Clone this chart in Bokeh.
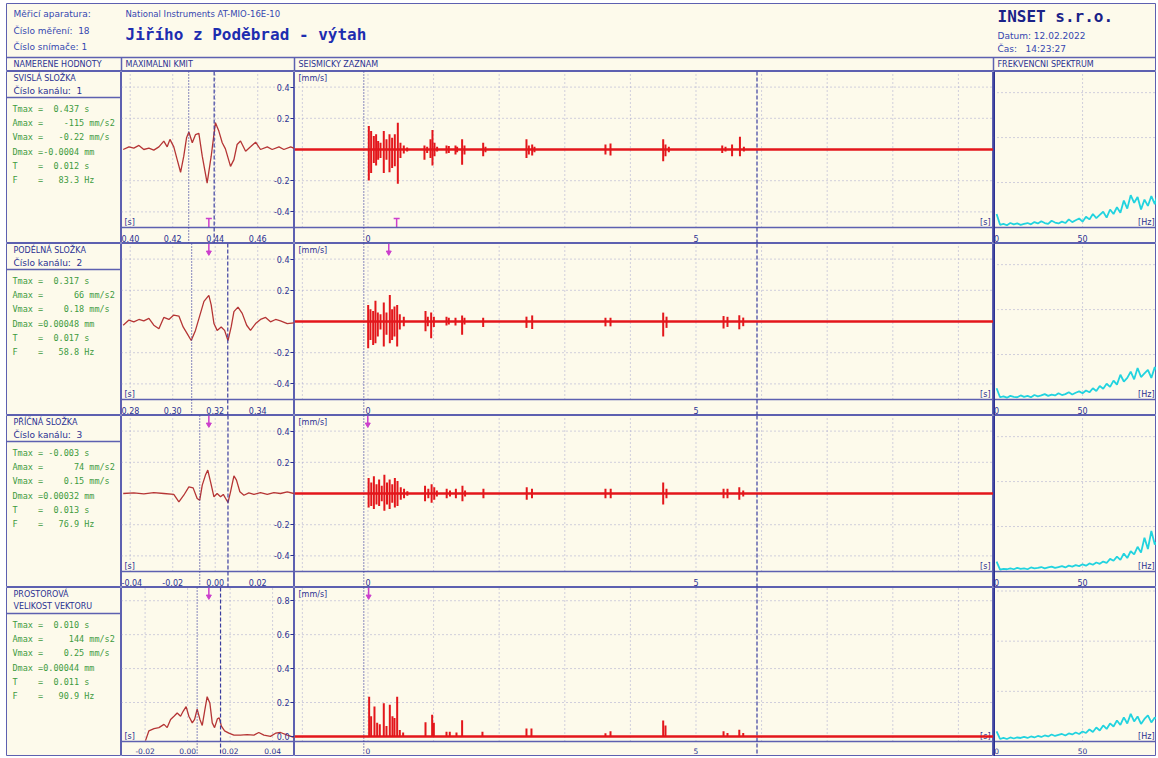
from bokeh.plotting import figure
from bokeh.layouts import column, row
from bokeh.models import Range1d, LinearAxis, FixedTicker, Span, NumeralTickFormatter
from bokeh.core.properties import value
from bokeh.embed import file_html
from bokeh.resources import INLINE

# ---------------- texts ----------------
HEADER_LEFT = ["Měřicí aparatura:", "Číslo měření:  18", "Číslo snímače: 1"]
DEVICE = "National Instruments AT-MIO-16E-10"
TITLE = "Jiřího z Poděbrad - výtah"
COMPANY = "INSET s.r.o."
DATE_LINES = ["Datum: 12.02.2022", "Čas:   14:23:27"]
COL_HEADERS = ["NAMERENE HODNOTY", "MAXIMALNI KMIT", "SEISMICKY ZAZNAM", "FREKVENCNI SPEKTRUM"]
ROW_TITLES = [["SVISLÁ SLOŽKA", "Číslo kanálu:  1"],
              ["PODÉLNÁ SLOŽKA", "Číslo kanálu:  2"],
              ["PŘÍČNÁ SLOŽKA", "Číslo kanálu:  3"],
              ["PROSTOROVÁ", "VELIKOST VEKTORU"]]

# ---------------- measured values ----------------
TMAX = [0.437, 0.317, -0.003, 0.010]
AMAX = [-115, 66, 74, 144]
VMAX = [-0.22, 0.18, 0.15, 0.25]
DMAX = ["-0.0004", "0.00048", "0.00032", "0.00044"]
PERIOD = [0.012, 0.017, 0.013, 0.011]
FREQ = [83.3, 58.8, 76.9, 90.9]
ARROW_UP = [True, False, False, False]

# ---------------- maximal oscillation ----------------
MK_XTICKS = [[0.40, 0.42, 0.44, 0.46], [0.28, 0.30, 0.32, 0.34],
             [-0.04, -0.02, 0.00, 0.02], [-0.02, 0.00, 0.02, 0.04]]
MK_YTICKS = [[-0.4, -0.2, 0.2, 0.4]] * 3 + [[0.0, 0.2, 0.4, 0.6, 0.8]]
MK_YGRID = [[-0.4, -0.2, 0.2, 0.4]] * 3 + [[0.2, 0.4, 0.6, 0.8]]
MK_MARK_A = [0.4275, 0.3089, -0.0073, 0.0045]
MK_MARK_B = [0.4395, 0.3259, 0.0060, 0.0155]

MK1_T = [0.3967, 0.3994, 0.4017, 0.4041, 0.4064, 0.4088, 0.4111, 0.4135, 0.4158, 0.4174,
         0.4187, 0.4205, 0.4221, 0.4237, 0.4252, 0.4265, 0.4276, 0.4292, 0.4307, 0.4323,
         0.4339, 0.4362, 0.4381, 0.4401, 0.4417, 0.4433, 0.4448, 0.4472, 0.4488, 0.4503,
         0.4519, 0.4543, 0.4566, 0.4590, 0.4613, 0.4645, 0.4668, 0.4700, 0.4723, 0.4755, 0.4778]
MK1_V = [0.000, 0.017, 0.009, 0.026, 0.000, 0.009, -0.004, 0.017, 0.054, 0.017,
         0.065, 0.017, -0.065, -0.146, -0.043, 0.075, 0.112, 0.043, 0.095, 0.103,
         -0.043, -0.215, -0.043, 0.172, 0.118, 0.043, 0.004, -0.108, -0.065, 0.032,
         0.054, -0.011, 0.017, 0.047, 0.000, 0.017, 0.000, 0.017, 0.000, 0.017, 0.004]
MK2_T = [0.2767, 0.2794, 0.2817, 0.2841, 0.2864, 0.2888, 0.2911, 0.2935, 0.2958, 0.2982,
         0.3005, 0.3029, 0.3049, 0.3068, 0.3087, 0.3107, 0.3128, 0.3147, 0.3170, 0.3181,
         0.3194, 0.3209, 0.3228, 0.3244, 0.3260, 0.3275, 0.3288, 0.3307, 0.3327, 0.3348,
         0.3366, 0.3390, 0.3413, 0.3437, 0.3460, 0.3484, 0.3507, 0.3539, 0.3570]
MK2_V = [-0.024, 0.009, -0.002, 0.013, 0.004, 0.020, -0.024, -0.046, 0.026, 0.013,
         0.041, 0.035, -0.035, -0.078, -0.122, -0.057, 0.041, 0.129, 0.168, 0.107,
         -0.013, -0.057, -0.035, -0.057, -0.122, -0.035, 0.063, 0.092, 0.052, -0.024,
         -0.057, -0.013, 0.013, 0.026, -0.002, 0.013, 0.004, -0.013, -0.009]
MK3_T = [-0.0433, -0.0383, -0.0336, -0.0289, -0.0242, -0.0195, -0.0171, -0.0148, -0.0124, -0.0104,
         -0.0085, -0.0073, -0.0061, -0.0046, -0.0035, -0.0022, -0.0006, 0.0009, 0.0025, 0.0038,
         0.0049, 0.0060, 0.0072, 0.0088, 0.0100, 0.0116, 0.0135, 0.0158, 0.0182, 0.0213,
         0.0245, 0.0276, 0.0307, 0.0339, 0.0370]
MK3_V = [0.000, 0.004, -0.002, 0.006, 0.000, -0.006, -0.054, -0.011, 0.043, 0.036,
         -0.032, -0.043, 0.054, 0.118, 0.150, 0.075, -0.021, 0.000, -0.021, -0.006,
         -0.032, -0.058, 0.011, 0.113, 0.086, 0.011, -0.011, 0.004, -0.006, 0.006,
         -0.006, 0.006, 0.000, 0.011, 0.000]
MK4_T = [-0.0198, -0.0182, -0.0158, -0.0135, -0.0111, -0.0096, -0.0080, -0.0064, -0.0049, -0.0033,
         -0.0021, -0.0007, 0.0006, 0.0022, 0.0033, 0.0045, 0.0058, 0.0069, 0.0080, 0.0092,
         0.0105, 0.0116, 0.0127, 0.0140, 0.0149, 0.0159, 0.0174, 0.0194, 0.0218, 0.0249,
         0.0280, 0.0312, 0.0335, 0.0359, 0.0390, 0.0414, 0.0437, 0.0469, 0.0500]
MK4_V = [-0.025, 0.033, 0.046, 0.052, 0.071, 0.052, 0.100, 0.119, 0.138, 0.119,
         0.148, 0.176, 0.119, 0.080, 0.100, 0.161, 0.100, 0.065, 0.148, 0.234,
         0.195, 0.080, 0.052, 0.103, 0.109, 0.061, 0.033, 0.019, 0.008, 0.008,
         0.011, 0.008, 0.023, 0.008, 0.000, 0.019, 0.023, 0.008, -0.006]
MK_T = [MK1_T, MK2_T, MK3_T, MK4_T]
MK_V = [MK1_V, MK2_V, MK3_V, MK4_V]

# ---------------- seismic record ----------------
SEIS_XTICKS = [0, 5]
SEIS_XGRID = [-1, 0, 1, 2, 3, 4, 5, 6, 7, 8, 9]
SEIS_MARK_A = -0.064
SEIS_MARK_B = 5.93
S1_T = [0.013, 0.048, 0.089, 0.124, 0.155, 0.191, 0.241, 0.282, 0.328, 0.368, 0.409, 0.455, 0.495, 0.546, 0.597,
        0.861, 0.902, 0.953, 0.983, 1.014, 1.054, 1.197, 1.232, 1.334, 1.359, 1.435, 1.471, 1.756, 1.791,
        2.416, 2.452, 2.503, 2.538, 3.620, 3.697, 4.500, 4.535, 4.586, 5.40, 5.45, 5.55, 5.67, 5.73]
S1_HI = [0.150, 0.118, 0.086, 0.097, 0.054, 0.043, 0.118, 0.065, 0.097, 0.075, 0.097, 0.172, 0.043, 0.026, 0.013,
         0.026, 0.017, 0.065, 0.125, 0.043, 0.017, 0.026, 0.022, 0.026, 0.017, 0.065, 0.026, 0.043, 0.017,
         0.065, 0.026, 0.032, 0.017, 0.032, 0.039, 0.065, 0.032, 0.017, 0.026, 0.017, 0.032, 0.082, 0.017]
S1_LO = [-0.198, -0.150, -0.086, -0.103, -0.065, -0.054, -0.150, -0.065, -0.146, -0.118, -0.108, -0.219, -0.054, -0.026, -0.013,
         -0.065, -0.022, -0.054, -0.103, -0.043, -0.013, -0.026, -0.022, -0.032, -0.017, -0.097, -0.032, -0.043, -0.017,
         -0.054, -0.032, -0.039, -0.017, -0.032, -0.039, -0.075, -0.043, -0.017, -0.022, -0.013, -0.043, -0.043, -0.013]
S2_T = [0.003, 0.038, 0.079, 0.114, 0.150, 0.191, 0.241, 0.282, 0.333, 0.368, 0.404, 0.445, 0.485, 0.546,
        0.877, 0.912, 0.963, 1.004, 1.197, 1.232, 1.334, 1.435, 1.471, 1.756, 2.416, 2.503, 3.620, 3.697,
        4.500, 4.551, 5.42, 5.48, 5.66, 5.72]
S2_HI = [0.105, 0.078, 0.068, 0.133, 0.057, 0.046, 0.122, 0.057, 0.170, 0.078, 0.096, 0.105, 0.046, 0.031,
         0.068, 0.031, 0.057, 0.031, 0.031, 0.024, 0.024, 0.039, 0.024, 0.024, 0.031, 0.039, 0.024, 0.024,
         0.057, 0.031, 0.035, 0.030, 0.040, 0.025]
S2_LO = [-0.172, -0.118, -0.150, -0.140, -0.096, -0.052, -0.161, -0.085, -0.140, -0.118, -0.096, -0.161, -0.052, -0.031,
         -0.063, -0.031, -0.107, -0.035, -0.026, -0.020, -0.026, -0.085, -0.020, -0.035, -0.041, -0.048, -0.031, -0.031,
         -0.096, -0.041, -0.045, -0.035, -0.050, -0.030]
S3_T = [0.01, 0.05, 0.09, 0.13, 0.17, 0.21, 0.25, 0.29, 0.33, 0.37, 0.41, 0.45, 0.50, 0.55, 0.60,
        0.87, 0.92, 0.97, 1.01, 1.05, 1.20, 1.25, 1.34, 1.44, 1.48, 1.76, 2.42, 2.50, 3.62, 3.70,
        4.50, 4.55, 5.42, 5.48, 5.66, 5.72]
S3_HI = [0.10, 0.07, 0.11, 0.06, 0.09, 0.05, 0.12, 0.07, 0.09, 0.06, 0.10, 0.08, 0.04, 0.03, 0.015,
         0.05, 0.03, 0.06, 0.04, 0.02, 0.03, 0.02, 0.03, 0.05, 0.02, 0.03, 0.04, 0.03, 0.03, 0.03,
         0.07, 0.03, 0.03, 0.03, 0.04, 0.02]
S3_LO = [-0.09, -0.08, -0.10, -0.07, -0.08, -0.05, -0.11, -0.07, -0.10, -0.06, -0.09, -0.08, -0.04, -0.03, -0.015,
         -0.05, -0.03, -0.06, -0.04, -0.02, -0.03, -0.02, -0.03, -0.05, -0.02, -0.03, -0.04, -0.03, -0.03, -0.03,
         -0.07, -0.03, -0.03, -0.03, -0.04, -0.02]
S4_T = [0.018, 0.048, 0.099, 0.140, 0.180, 0.241, 0.282, 0.333, 0.373, 0.404, 0.445, 0.485, 0.536,
        0.877, 0.978, 1.004, 1.197, 1.247, 1.349, 1.435, 1.745, 2.416, 2.492, 3.620, 3.697,
        4.500, 4.535, 5.42, 5.48, 5.66, 5.72]
S4_HI = [0.234, 0.119, 0.176, 0.080, 0.071, 0.195, 0.061, 0.186, 0.119, 0.109, 0.234, 0.038, 0.023,
         0.084, 0.128, 0.080, 0.027, 0.027, 0.023, 0.096, 0.027, 0.046, 0.046, 0.019, 0.031,
         0.094, 0.065, 0.030, 0.020, 0.040, 0.020]
S4_LO = [0.0] * len(S4_T)
S_T = [S1_T, S2_T, S3_T, S4_T]
S_HI = [S1_HI, S2_HI, S3_HI, S4_HI]
S_LO = [S1_LO, S2_LO, S3_LO, S4_LO]

# ---------------- frequency spectrum ----------------
SPEC_XTICKS = [0, 50]
SPEC_XGRID = [50]
SPEC_YGRID = [1, 2, 3]
SPEC_F = [0, 2, 4, 6, 8, 10, 12, 14, 16, 18, 20, 22, 24, 26, 28, 30, 32, 34, 36, 38, 40, 42, 44, 46,
          48, 50, 52, 54, 56, 58, 60, 62, 64, 66, 68, 70, 72, 74, 76, 78, 80, 82, 84, 86, 88, 90, 92, 94]
SPEC1 = [0.30, 0.06, 0.08, 0.05, 0.10, 0.07, 0.09, 0.06, 0.08, 0.10, 0.07, 0.12, 0.09, 0.14, 0.10, 0.08,
         0.15, 0.11, 0.09, 0.13, 0.10, 0.18, 0.12, 0.16, 0.20, 0.13, 0.24, 0.18, 0.30, 0.21, 0.28, 0.35,
         0.22, 0.40, 0.30, 0.45, 0.33, 0.60, 0.42, 0.72, 0.55, 0.68, 0.40, 0.62, 0.48, 0.70, 0.52, 0.78]
SPEC2 = [0.25, 0.05, 0.07, 0.04, 0.08, 0.06, 0.05, 0.09, 0.06, 0.08, 0.05, 0.10, 0.07, 0.09, 0.12, 0.08,
         0.11, 0.09, 0.14, 0.10, 0.12, 0.16, 0.11, 0.15, 0.18, 0.14, 0.20, 0.16, 0.25, 0.19, 0.30, 0.24,
         0.35, 0.28, 0.42, 0.33, 0.55, 0.40, 0.48, 0.62, 0.45, 0.70, 0.50, 0.58, 0.66, 0.48, 0.72, 0.60]
SPEC3 = [0.22, 0.04, 0.06, 0.05, 0.07, 0.05, 0.08, 0.06, 0.07, 0.05, 0.09, 0.07, 0.08, 0.10, 0.07, 0.09,
         0.11, 0.08, 0.10, 0.12, 0.09, 0.13, 0.11, 0.14, 0.12, 0.16, 0.13, 0.18, 0.15, 0.20, 0.17, 0.22,
         0.19, 0.28, 0.24, 0.33, 0.26, 0.40, 0.30, 0.45, 0.38, 0.55, 0.42, 0.75, 0.50, 0.90, 0.60, 0.70]
SPEC4 = [0.20, 0.05, 0.07, 0.05, 0.08, 0.06, 0.08, 0.07, 0.09, 0.07, 0.10, 0.08, 0.11, 0.09, 0.12, 0.10,
         0.14, 0.11, 0.13, 0.15, 0.12, 0.16, 0.14, 0.18, 0.15, 0.20, 0.17, 0.24, 0.19, 0.28, 0.22, 0.32,
         0.25, 0.36, 0.30, 0.42, 0.33, 0.48, 0.36, 0.55, 0.40, 0.50, 0.35, 0.45, 0.52, 0.38, 0.48, 0.42]
SPEC_V = [SPEC1, SPEC2, SPEC3, SPEC4]

# ---------------- layout & style ----------------
COL_W = [115, 173, 699, 163]
HEAD_H, COLHEAD_H = 54, 14
ROW_H = [172, 172, 172, 169]
STRIP_H = [16, 16, 16, 15]
MK_XR = [(0.3959, 0.4773), (0.2759, 0.3573), (-0.0441, 0.0373), (-0.0311, 0.0503)]
MK_YR = [(-0.5, 0.5)] * 3 + [(-0.03, 0.878)]
SEIS_XR = (-1.12, 9.535)
SPEC_XR = (-1.8, 93.0)
SPEC_YR = [(0, 3.47)] * 3 + [(0, 3.07)]

BG = "#fdfaeb"
BORDER = "#5d60b0"
NAVY = "#2b3192"
HBLUE = "#3547b0"
GREEN = "#3e9b3e"
SIG = "#e3161b"
TRACE = "#b53535"
CYAN = "#22d3df"
MAG = "#cc3fcc"
GRID = "#a3a3cc"
MARK = "#3b3ea0"
SANS = "DejaVu Sans"
MONO = "DejaVu Sans Mono"
NB = "\u00a0"


def keep(s):
    return s.replace(" ", NB)


def make_fig(w, h, xr, yr):
    p = figure(width=w, height=h, x_range=xr, y_range=yr, output_backend="svg",
               toolbar_location=None, x_axis_type=None, y_axis_type=None,
               min_border=0, min_border_left=0, min_border_right=0,
               min_border_top=0, min_border_bottom=0)
    p.background_fill_color = BG
    p.border_fill_color = BG
    p.outline_line_color = BORDER
    p.outline_line_width = 1
    return p


def txt(p, x, y, s, size="8px", color=NAVY, font=SANS, align="left", baseline="middle",
        style="normal", xo=0, yo=0):
    p.text(x=x, y=y, text=[keep(t) for t in s], text_font=value(font), text_font_size=size,
           text_color=color, text_align=align, text_baseline=baseline,
           text_font_style=style, x_offset=xo, y_offset=yo)


def x_axis(p, loc, ticks, fmt, last_row=False):
    ax = LinearAxis(fixed_location=loc, ticker=FixedTicker(ticks=ticks),
                    formatter=NumeralTickFormatter(format=fmt),
                    axis_line_color=BORDER, axis_line_width=1.5,
                    major_tick_line_color=None, minor_tick_line_color=None,
                    major_label_text_font=SANS,
                    major_label_text_font_size="7.5px" if last_row else "8px",
                    major_label_text_color=NAVY,
                    major_label_standoff=0 if last_row else 1)
    p.add_layout(ax, "below")


def strip_range(y0, y1, h, strip):
    upp = (y1 - y0) / (h - strip)
    return Range1d(y0 - upp * strip, y1), upp


def grids(p, xg, yg, xr, yr):
    p.segment(x0=xg, y0=[yr[0]] * len(xg), x1=xg, y1=[yr[1]] * len(xg),
              line_color=GRID, line_dash="1 3", line_width=1)
    p.segment(x0=[xr[0]] * len(yg), y0=yg, x1=[xr[1]] * len(yg), y1=yg,
              line_color=GRID, line_dash="1 3", line_width=1)


def arrow(p, i, t, y0, y1, upp):
    if ARROW_UP[i]:
        tip = y0 + 9 * upp
        p.segment(x0=[t], y0=[y0], x1=[t], y1=[tip], line_color=MAG, line_width=1.5)
        p.scatter(x=[t], y=[tip], marker="dash", size=6, line_color=MAG, line_width=1.5)
    else:
        tip = y1 - 9 * upp
        p.segment(x0=[t], y0=[y1], x1=[t], y1=[tip], line_color=MAG, line_width=1.5)
        p.scatter(x=[t], y=[tip], marker="inverted_triangle", size=5, color=MAG)


# ---------------- header ----------------
W = sum(COL_W)
HH = HEAD_H + COLHEAD_H
hdr = make_fig(W, HH, Range1d(0, W), Range1d(HH, 0))
hdr.add_layout(Span(location=HEAD_H, dimension="width", line_color=BORDER, line_width=1.5))
xb = [COL_W[0], COL_W[0] + COL_W[1], COL_W[0] + COL_W[1] + COL_W[2]]
hdr.segment(x0=xb, y0=[HEAD_H] * 3, x1=xb, y1=[HH] * 3, line_color=BORDER, line_width=1.5)
txt(hdr, [7, 7, 7], [10, 27, 43], HEADER_LEFT, size="9px", color=HBLUE)
txt(hdr, [119], [10], [DEVICE], size="8.5px", color=HBLUE)
txt(hdr, [119], [31], [TITLE], size="16px", color="#1d2db0", font=MONO, style="bold")
txt(hdr, [991], [13], [COMPANY], size="16px", color="#1a2288", font=MONO, style="bold")
txt(hdr, [991, 991], [32, 45], DATE_LINES, size="9px", color=HBLUE)
txt(hdr, [7, xb[0] + 4, xb[1] + 4, xb[2] + 4], [HEAD_H + 7] * 4, COL_HEADERS, size="8px", color=NAVY)


# ---------------- cells ----------------
def text_cell(i):
    w, h = COL_W[0], ROW_H[i]
    p = make_fig(w, h, Range1d(0, w), Range1d(h, 0))
    p.segment(x0=[0], y0=[26], x1=[w], y1=[26], line_color=BORDER, line_width=1.5)
    t1, t2 = ROW_TITLES[i]
    txt(p, [7], [7], [t1], size="8px", color=NAVY)
    txt(p, [7], [19], [t2], size="9px" if i < 3 else "8px", color=NAVY)
    lines = [f"Tmax = {TMAX[i]:6.3f} s",
             f"Amax = {AMAX[i]:7d} mm/s2",
             f"Vmax = {VMAX[i]:7.2f} mm/s",
             f"Dmax ={DMAX[i]} mm",
             f"T    = {PERIOD[i]:6.3f} s",
             f"F    = {FREQ[i]:6.1f} Hz"]
    txt(p, [6] * 6, [37, 51, 65, 80, 94, 108], lines, size="8.5px", color=GREEN, font=MONO)
    return p


def mk_cell(i):
    w, h, s = COL_W[1], ROW_H[i], STRIP_H[i]
    y0, y1 = MK_YR[i]
    xr = MK_XR[i]
    yr, upp = strip_range(y0, y1, h, s)
    p = make_fig(w, h, Range1d(*xr), yr)
    grids(p, MK_XTICKS[i], MK_YGRID[i], xr, (y0, y1))
    p.add_layout(Span(location=MK_MARK_A[i], dimension="height", line_color=MARK,
                      line_dash="1 2", line_width=1.2))
    p.add_layout(Span(location=MK_MARK_B[i], dimension="height", line_color=MARK,
                      line_dash="4 2", line_width=1.2))
    p.line(MK_T[i], MK_V[i], line_color=TRACE, line_width=1.3)
    x_axis(p, y0, MK_XTICKS[i], "0.00", last_row=(i == 3))
    ya = LinearAxis(fixed_location=xr[1], ticker=FixedTicker(ticks=MK_YTICKS[i]),
                    formatter=NumeralTickFormatter(format="0.0"),
                    axis_line_color=None, major_tick_line_color=NAVY,
                    major_tick_out=4, major_tick_in=3, minor_tick_line_color=None,
                    major_label_text_font=SANS, major_label_text_font_size="8px",
                    major_label_text_color=NAVY, major_label_standoff=1)
    p.add_layout(ya, "left")
    txt(p, [xr[0]], [y0], ["[s]"], size="8px", color=NAVY, baseline="bottom", xo=3, yo=-1)
    arrow(p, i, TMAX[i], y0, y1, upp)
    return p


def seis_cell(i):
    w, h, s = COL_W[2], ROW_H[i], STRIP_H[i]
    y0, y1 = MK_YR[i]
    xr = SEIS_XR
    yr, upp = strip_range(y0, y1, h, s)
    p = make_fig(w, h, Range1d(*xr), yr)
    grids(p, SEIS_XGRID, MK_YGRID[i], xr, (y0, y1))
    p.add_layout(Span(location=SEIS_MARK_A, dimension="height", line_color=MARK,
                      line_dash="1 2", line_width=1.2))
    p.add_layout(Span(location=SEIS_MARK_B, dimension="height", line_color=MARK,
                      line_dash="4 2", line_width=1.2))
    p.add_layout(Span(location=0, dimension="width", line_color=SIG, line_width=2.5))
    p.segment(x0=S_T[i], y0=S_LO[i], x1=S_T[i], y1=S_HI[i], line_color=SIG, line_width=2)
    x_axis(p, y0, SEIS_XTICKS, "0", last_row=(i == 3))
    txt(p, [xr[0]], [y1], ["[mm/s]"], size="8px", color=NAVY, baseline="top", xo=4, yo=2)
    txt(p, [xr[1]], [y0], ["[s]"], size="8px", color=NAVY, align="right", baseline="bottom",
        xo=-3, yo=-1)
    arrow(p, i, TMAX[i], y0, y1, upp)
    return p


def spec_cell(i):
    w, h, s = COL_W[3], ROW_H[i], STRIP_H[i]
    y0, y1 = SPEC_YR[i]
    xr = SPEC_XR
    yr, upp = strip_range(y0, y1, h, s)
    p = make_fig(w, h, Range1d(*xr), yr)
    grids(p, SPEC_XGRID, SPEC_YGRID, xr, (y0, y1))
    p.line(SPEC_F, SPEC_V[i], line_color=CYAN, line_width=1.8)
    p.add_layout(Span(location=xr[0], dimension="height", line_color=NAVY, line_width=3))
    x_axis(p, y0, SPEC_XTICKS, "0", last_row=(i == 3))
    txt(p, [xr[1]], [y0], ["[Hz]"], size="8px", color=NAVY, align="right", baseline="bottom",
        xo=-2, yo=-1)
    return p


rows = [row(text_cell(i), mk_cell(i), seis_cell(i), spec_cell(i), spacing=0) for i in range(4)]
layout = column(hdr, *rows, spacing=0, margin=(3, 0, 0, 6))

open("out.html", "w").write(file_html(layout, INLINE, title="Seismický záznam"))
